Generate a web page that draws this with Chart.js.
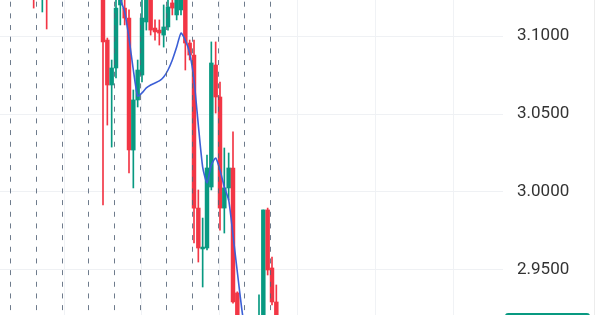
<!DOCTYPE html>
<html>
<head>
<meta charset="utf-8">
<script src="https://cdn.jsdelivr.net/npm/chart.js@4.4.1/dist/chart.umd.min.js"></script>
<style>
  html, body { margin: 0; padding: 0; background: #ffffff; }
  #wrap { width: 600px; height: 315px; }
</style>
</head>
<body>
<div id="wrap"><canvas id="c" width="600" height="315"></canvas></div>
<script>
// ---- data ----
const candleIdx = [5, 7, 8, 21, 22, 23, 24, 25, 26, 27, 28, 29, 30, 31, 32, 33, 34, 35, 36, 37, 38, 39, 40, 41, 42, 43, 44, 45, 46, 47, 48, 49, 50, 51, 52, 57, 58, 59, 60, 61];
const opens  = [3.1320, 3.1250, 3.1330, 3.1330, 3.0974, 3.0686, 3.0795, 3.1199, 3.1179, 3.1115, 3.0269, 3.0590, 3.0750, 3.1090, 3.1263, 3.1051, 3.1038, 3.1006, 3.1058, 3.1212, 3.1135, 3.1167, 3.1295, 3.0955, 3.0878, 2.9897, 2.9635, 2.9641, 3.0032, 3.0814, 3.0609, 2.9897, 3.0026, 3.0154, 2.9353, 2.9051, 2.9115, 2.9885, 2.9513, 2.9295];
const highs  = [3.1380, 3.1390, 3.1370, 3.1360, 3.0987, 3.0846, 3.1263, 3.1320, 3.1240, 3.1167, 3.0654, 3.0846, 3.1263, 3.1295, 3.1295, 3.1103, 3.1103, 3.1199, 3.1231, 3.1263, 3.1295, 3.1327, 3.1327, 3.0974, 3.0974, 3.0013, 2.9833, 3.0237, 3.0962, 3.0962, 3.0705, 3.0282, 3.0250, 3.0385, 2.9360, 2.9340, 2.9885, 2.9897, 2.9583, 2.9404];
const lows   = [3.1179, 3.1154, 3.1045, 2.9917, 3.0429, 3.0288, 3.0731, 3.1071, 3.1071, 3.0122, 3.0026, 3.0545, 3.0705, 3.1038, 3.1006, 3.0974, 3.0942, 3.0929, 3.1038, 3.1135, 3.1103, 3.1135, 3.0782, 3.0846, 2.9673, 2.9551, 2.9391, 2.9628, 3.0013, 3.0506, 2.9756, 2.9737, 2.9949, 2.9288, 2.9051, 2.8987, 2.9051, 2.9468, 2.9276, 2.9051];
const closes = [3.1250, 3.1330, 3.1255, 3.0962, 3.0686, 3.0795, 3.1179, 3.1295, 3.1115, 3.0269, 3.0590, 3.0782, 3.1115, 3.1263, 3.1038, 3.1026, 3.1019, 3.1058, 3.1186, 3.1179, 3.1263, 3.1282, 3.0955, 3.0878, 2.9897, 2.9641, 2.9647, 3.0154, 3.0827, 3.0609, 2.9897, 3.0026, 3.0154, 2.9295, 2.9115, 2.9192, 2.9885, 2.9500, 2.9295, 2.9115];

const maIdx    = [24, 25, 26, 27, 28, 29, 30, 31, 32, 33, 34, 35, 36, 37, 38, 39, 40, 41, 42, 43, 44, 45, 46, 47, 48, 49, 50, 51, 52, 53, 54];
const maValues = [3.1359, 3.1237, 3.1154, 3.0987, 3.0782, 3.0615, 3.0635, 3.0667, 3.0686, 3.0699, 3.0712, 3.0737, 3.0782, 3.0846, 3.0929, 3.1019, 3.0974, 3.0890, 3.0718, 3.0429, 3.0160, 3.0058, 3.0173, 3.0218, 3.0141, 3.0032, 2.9949, 2.9724, 2.9487, 2.9256, 2.9051];

const priceTicks = [2.95, 3.00, 3.05, 3.10];
const sessionBreaks = [-0.35, 5.65, 11.65, 17.65, 23.65, 29.65, 35.65, 41.65, 47.65, 53.65, 59.65];
const timeGrid = [12, 30, 48, 66, 84, 102];
const lastPrice = 2.9160;

// ---- styles ----
const UP = '#089981', DOWN = '#F23645';
const candleColors = candleIdx.map((_, k) => closes[k] >= opens[k] ? UP : DOWN);

const wickData = candleIdx.map((x, k) => ({ x: x, y: [lows[k], highs[k]] }));
const bodyData = candleIdx.map((x, k) => ({ x: x, y: [opens[k], closes[k]] }));
const maData = maIdx.map((x, k) => ({ x: x, y: maValues[k] }));

const overlayPlugin = {
  id: 'overlay',
  afterDatasetsDraw(chart) {
    const { ctx, chartArea, scales } = chart;
    const xs = scales.x;
    ctx.save();
    ctx.strokeStyle = 'rgba(85,100,120,0.85)';
    ctx.lineWidth = 1;
    ctx.setLineDash([5, 6.67]);
    ctx.lineDashOffset = -1.7;
    sessionBreaks.forEach(v => {
      const px = Math.round(xs.getPixelForValue(v)) + 0.5;
      ctx.beginPath();
      ctx.moveTo(px, chartArea.top);
      ctx.lineTo(px, chartArea.bottom);
      ctx.stroke();
    });
    ctx.restore();
  },
  afterDraw(chart) {
    const { ctx, chartArea, scales } = chart;
    const ys = scales.y;
    ctx.save();
    ctx.strokeStyle = '#ececec';
    ctx.lineWidth = 1;
    ctx.beginPath();
    ctx.moveTo(chart.width - 5.5, 0);
    ctx.lineTo(chart.width - 5.5, chart.height);
    ctx.stroke();
    const py = ys.getPixelForValue(lastPrice);
    ctx.fillStyle = UP;
    ctx.beginPath();
    if (ctx.roundRect) ctx.roundRect(chartArea.right + 2, py - 10, 85, 20, 3);
    else ctx.rect(chartArea.right + 2, py - 10, 85, 20);
    ctx.fill();
    ctx.fillStyle = '#ffffff';
    ctx.font = '17px Roboto';
    ctx.textBaseline = 'middle';
    ctx.fillText(lastPrice.toFixed(4), chartArea.right + 14, py);
    ctx.restore();
  }
};

new Chart(document.getElementById('c'), {
  type: 'bar',
  data: {
    datasets: [
      {
        type: 'line', label: 'MA', data: maData, order: 0,
        borderColor: '#3C5FD6', borderWidth: 1.6, pointRadius: 0, tension: 0.2, fill: false
      },
      {
        label: 'body', data: bodyData, order: 1, grouped: false,
        backgroundColor: candleColors, borderWidth: 0, barThickness: 3.8
      },
      {
        label: 'wick', data: wickData, order: 2, grouped: false,
        backgroundColor: candleColors, borderWidth: 0, barThickness: 1
      }
    ]
  },
  options: {
    responsive: false,
    animation: false,
    devicePixelRatio: 1,
    layout: { padding: 0 },
    plugins: { legend: { display: false }, tooltip: { enabled: false } },
    scales: {
      x: {
        type: 'linear', min: -2.77, max: 113.31, offset: false,
        afterBuildTicks: s => { s.ticks = timeGrid.map(v => ({ value: v })); },
        afterFit: s => { s.height = 0; s.paddingLeft = 0; s.paddingRight = 0; },
        ticks: { display: false },
        grid: { color: '#f0f2f5', drawTicks: false, offset: false },
        border: { display: false }
      },
      y: {
        type: 'linear', position: 'right', min: 2.92115, max: 3.12308,
        afterBuildTicks: s => { s.ticks = priceTicks.map(v => ({ value: v })); },
        afterFit: s => { s.width = 97; s.paddingTop = 0; s.paddingBottom = 0; },
        ticks: {
          padding: 14, color: '#333333',
          font: { family: 'Roboto', size: 17 },
          callback: v => Number(v).toFixed(4)
        },
        grid: { color: '#eff1f4', drawTicks: false },
        border: { display: false }
      }
    }
  },
  plugins: [overlayPlugin]
});
</script>
</body>
</html>
